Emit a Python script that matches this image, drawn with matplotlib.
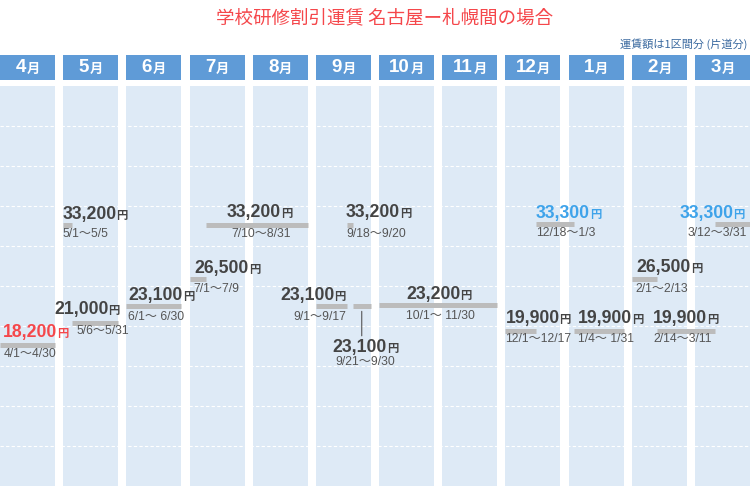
import matplotlib
matplotlib.use('Agg')
import matplotlib.pyplot as plt
from matplotlib.patches import Rectangle
from matplotlib.offsetbox import TextArea, HPacker, AnnotationBbox
from matplotlib.transforms import blended_transform_factory

plt.rcParams['font.family'] = ['Liberation Sans', 'Noto Sans CJK JP']

# --- data ---
months = ['4', '5', '6', '7', '8', '9', '10', '11', '12', '1', '2', '3']
month_days = [30, 31, 30, 31, 31, 30, 31, 30, 31, 31, 28, 31]

fares = [18200, 33200, 21000, 23100, 26500, 33200, 23100, 33200,
         23100, 23200, 19900, 33300, 19900, 26500, 19900, 33300]
start_dates = ['4/1', '5/1', '5/6', '6/1', '7/1', '7/10', '9/1', '9/18',
               '9/21', '10/1', '12/1', '12/18', '1/4', '2/1', '2/14', '3/12']
end_dates = ['4/30', '5/5', '5/31', '6/30', '7/9', '8/31', '9/17', '9/20',
             '9/30', '11/30', '12/17', '1/3', '1/31', '2/13', '3/11', '3/31']
date_labels = ['4/1～4/30', '5/1〜5/5', '5/6〜5/31', '6/1～ 6/30', '7/1〜7/9',
               '7/10〜8/31', '9/1〜9/17', '9/18〜9/20', '9/21〜9/30',
               '10/1～ 11/30', '12/1〜12/17', '12/18〜1/3', '1/4～ 1/31',
               '2/1〜2/13', '2/14〜3/11', '3/12〜3/31']

# label placement (pixels from bar start, y down)
price_off = [(3, -12), (-1, -11), (-18, -13), (2, -10), (5, -10), (21, -12),
             (-36, -10), (-1, -12), (-20, 42), (27, -11), (0, -13), (0, -11),
             (4, -13), (5, -11), (-4, -13), (-35, -11)]
date_off = [(4, 9), (-1, 9), (4, 8), (2, 11), (4, 10), (26, 9),
            (-23, 11), (-1, 9), (-17, 56), (27, 11), (0, 8), (0, 9),
            (4, 8), (4, 10), (-4, 8), (-27, 9)]

HEAD = '#5f9bd7'
BODY = '#deeaf6'
BAR = '#bcbcbc'
TXT = '#444444'
RED = '#f5474b'
BLUE = '#3ea3ea'

fig = plt.figure(figsize=(7.5, 4.86), dpi=100)
ax = fig.add_axes([0, 0, 1, 400 / 486])
col_w = 55 / 63.18
ax.set_xlim(0, 11 + col_w)
ax.set_ylim(575, 50575)
ax.axis('off')


def day_x(date, end=False):
    m, d = map(int, date.split('/'))
    i = (m - 4) % 12
    return i + (d - (0 if end else 1)) / month_days[i] * col_w


col_trans = blended_transform_factory(ax.transData, ax.transAxes)
head_trans = blended_transform_factory(ax.transData, fig.transFigure)

for i, m in enumerate(months):
    ax.add_patch(Rectangle((i, 0), col_w, 1, transform=col_trans,
                           color=BODY, zorder=0, lw=0))
    ax.add_patch(Rectangle((i, 1 - 80 / 486), col_w, 25 / 486, transform=head_trans,
                           color=HEAD, zorder=0, lw=0, clip_on=False))
    box = HPacker(children=[
        TextArea(m, textprops=dict(color='white', fontsize=13.5, fontweight='bold')),
        TextArea('月', textprops=dict(color='white', fontsize=9.5, fontweight='bold',
                                      family=['Noto Sans CJK JP']))],
        align='baseline', pad=0, sep=0.5)
    ax.add_artist(AnnotationBbox(box, (i + col_w / 2, 1 - 68 / 486), xycoords=head_trans,
                                 box_alignment=(0.5, 0.5), frameon=False, pad=0,
                                 annotation_clip=False))

# dashed guides
for k in range(1, 10):
    ax.axhline(575 + 5000 * k, color='white', lw=0.8, ls=(0, (3, 2)), zorder=1)

# fare bars and labels
for i, fare in enumerate(fares):
    x0 = day_x(start_dates[i])
    x1 = day_x(end_dates[i], end=True)
    ax.hlines(fare, x0, x1, colors=BAR, lw=3.6, capstyle='butt', zorder=2)

    color = RED if fare == min(fares) else (BLUE if fare == max(fares) else TXT)
    box = HPacker(children=[
        TextArea(f'{fare:,}', textprops=dict(color=color, fontsize=12.7, fontweight='bold')),
        TextArea('円', textprops=dict(color=color, fontsize=8.2, fontweight='bold',
                                      family=['Noto Sans CJK JP']))],
        align='baseline', pad=0, sep=0)
    dx, dy = price_off[i]
    ax.add_artist(AnnotationBbox(box, (x0, fare), xybox=(dx, -dy), boxcoords='offset pixels',
                                 box_alignment=(0, 0.5), frameon=False, pad=0, zorder=3))
    dx, dy = date_off[i]
    ax.annotate(date_labels[i], (x0, fare), xytext=(dx, -dy), textcoords='offset pixels',
                ha='left', va='center', fontsize=8.7, color='#555555', zorder=3)

    # leader line for the label placed under its bar
    if dy > 30:
        mid = (x0 + x1) / 2
        ax.annotate('', xy=(mid, fare), xycoords='data', xytext=(0, -30),
                    textcoords='offset pixels',
                    arrowprops=dict(arrowstyle='-', color='#555555', lw=0.8,
                                    shrinkA=0, shrinkB=4))

fig.text(385 / 750, 1 - 18 / 486, '学校研修割引運賃 名古屋ー札幌間の場合',
         ha='center', va='center', fontsize=13.3, color=RED,
         family=['Noto Sans CJK JP'])
fig.text(747 / 750, 1 - 44 / 486, '運賃額は1区間分 (片道分)',
         ha='right', va='center', fontsize=8, color='#3b6aa0',
         family=['Noto Sans CJK JP'])

fig.savefig('out.png', dpi=100)
